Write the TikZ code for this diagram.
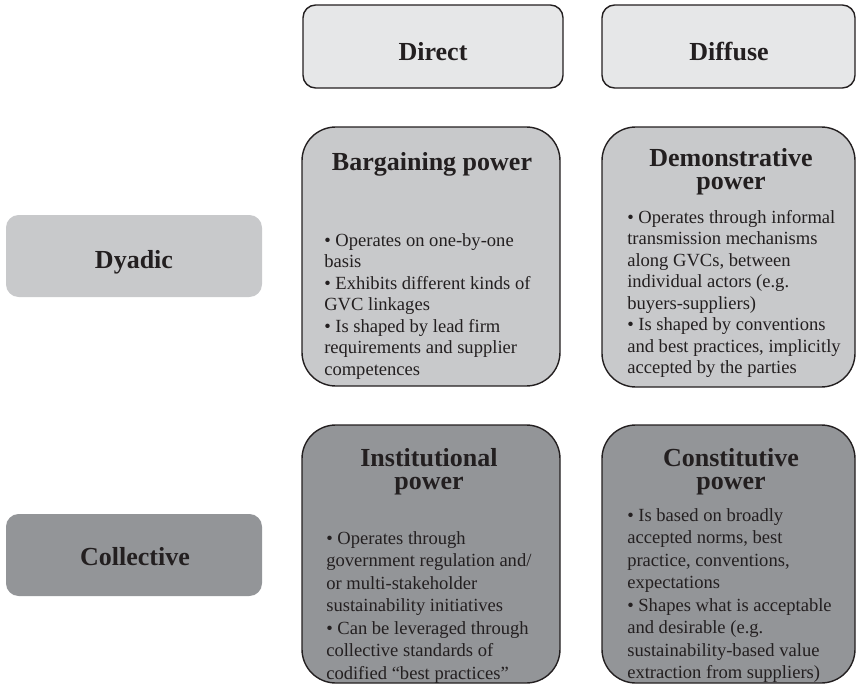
\documentclass[tikz,border=0pt]{standalone}
\usepackage{fontspec}
\setmainfont{Liberation Serif}
\definecolor{boxlight}{HTML}{E6E7E8}
\definecolor{boxmid}{HTML}{C8C9CB}
\definecolor{boxdark}{HTML}{939598}
\definecolor{inktext}{HTML}{231F20}

\begin{document}
\begin{tikzpicture}[x=0.025cm, y=-0.025cm,
		every node/.style={text=inktext, inner sep=0pt},
		headbox/.style={draw=inktext, line width=1pt, rounded corners=9pt},
		rowbox/.style={rounded corners=9pt},
		powerbox/.style={draw=inktext, line width=1pt, rounded corners=24pt},
		headtext/.style={font=\fontsize{18.5}{16.2}\selectfont\bfseries},
		bodytext/.style={align=left, anchor=north west, font=\fontsize{13.2}{15.3}\selectfont}]

		\useasboundingbox (0,0) rectangle (857,684);

		% column headers
		\draw [headbox, fill=boxlight] (303,5) rectangle (563,88);
		\draw [headbox, fill=boxlight] (602,5) rectangle (855,88);
		\node[headtext, anchor=base] (direct) at (433,60) {Direct};
		\node[headtext, anchor=base] (diffuse) at (729,60) {Diffuse};

		% row headers
		\fill [rowbox, boxmid] (6,215) rectangle (262,297);
		\fill [rowbox, boxdark] (6,514) rectangle (262,596);
		\node[headtext, anchor=base] (dyadic) at (134,268) {Dyadic};
		\node[headtext, anchor=base] (collective) at (135,565) {Collective};

		% dyadic row
		\draw [powerbox, fill=boxmid] (302,127) rectangle (560,386);
		\node[headtext, anchor=base] (bargain) at (432,170) {Bargaining power};
		\node[bodytext] (bargaintxt) at (324,233) {\textbullet{} Operates on one-by-one\\basis\\\textbullet{} Exhibits different kinds of\\GVC linkages\\\textbullet{} Is shaped by lead firm\\requirements and supplier\\competences};

		\draw [powerbox, fill=boxmid] (602,127) rectangle (855,387);
		\node[headtext, anchor=north, align=center] (demo) at (731,148) {Demonstrative\\power};
		\node[bodytext] (demotxt) at (627,210) {\textbullet{} Operates through informal\\transmission mechanisms\\along GVCs, between\\individual actors (e.g.\\buyers-suppliers)\\\textbullet{} Is shaped by conventions\\and best practices, implicitly\\accepted by the parties};

		% collective row
		\draw [powerbox, fill=boxdark] (302,425) rectangle (560,683);
		\node[headtext, anchor=north, align=center] (instit) at (429,448) {Institutional\\power};
		\node[bodytext, font=\fontsize{13.2}{16}\selectfont] (institxt) at (326,531) {\textbullet{} Operates through\\government regulation and/\\or multi-stakeholder\\sustainability initiatives\\\textbullet{} Can be leveraged through\\collective standards of\\codified “best practices”};

		\draw [powerbox, fill=boxdark] (602,425) rectangle (855,683);
		\node[headtext, anchor=north, align=center] (constit) at (731,448) {Constitutive\\power};
		\node[bodytext, font=\fontsize{13.2}{16}\selectfont] (constitxt) at (627,508) {\textbullet{} Is based on broadly\\accepted norms, best\\practice, conventions,\\expectations\\\textbullet{} Shapes what is acceptable\\and desirable (e.g.\\sustainability-based value\\extraction from suppliers)};

	\end{tikzpicture}
\end{document}
